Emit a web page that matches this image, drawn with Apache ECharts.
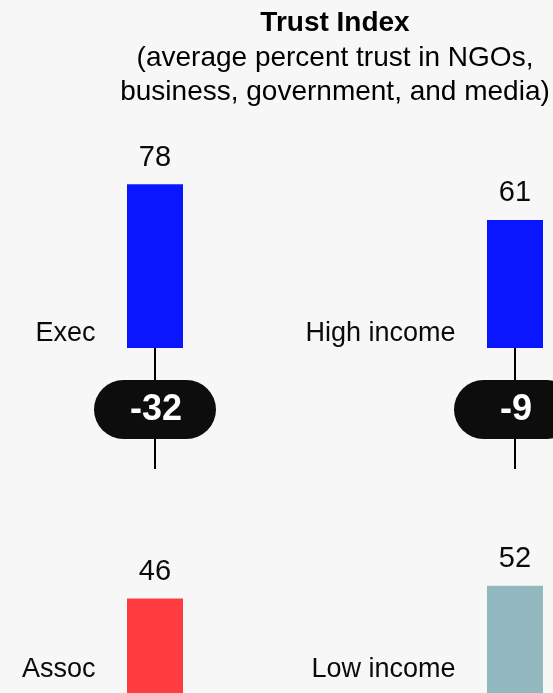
<!DOCTYPE html>
<html>
<head>
<meta charset="utf-8">
<script src="https://cdn.jsdelivr.net/npm/echarts@6/dist/echarts.min.js"></script>
<style>
  html, body { margin: 0; padding: 0; background: #f7f7f7; }
  #chart { width: 553px; height: 693px; }
</style>
</head>
<body>
<div id="chart"></div>
<script>
// top row: executives vs high income, bottom row: associates vs low income
const topNames = ['Exec', 'High income']
const topValues = [78, 61]
const bottomNames = ['Assoc', 'Low income']
const bottomValues = [46, 52]
const gaps = [-32, -9]

const topColors = ['#0a16ff', '#0a16ff']
const bottomColors = ['#ff3d41', '#92b9bf']
const font = '"Liberation Sans", Arial, sans-serif'

const myChart = echarts.init(document.getElementById('chart'))

function barSeries (idx, values, colors) {
  return {
    type: 'bar',
    xAxisIndex: idx,
    yAxisIndex: idx,
    barWidth: 56,
    data: values.map((v, i) => ({ value: v, itemStyle: { color: colors[i] } })),
    label: {
      show: true,
      position: 'top',
      distance: 12,
      fontFamily: font,
      fontSize: 29,
      color: '#0a0a0a'
    }
  }
}

function nameSeries (idx, names, dy) {
  return {
    type: 'scatter',
    xAxisIndex: idx,
    yAxisIndex: idx,
    symbolSize: 1,
    itemStyle: { color: 'rgba(0,0,0,0)', opacity: 1 },
    silent: true,
    data: names.map((n, i) => [i, 0]),
    label: {
      show: true,
      position: 'left',
      distance: 59,
      offset: [0, dy],
      formatter: p => names[p.dataIndex],
      fontFamily: font,
      fontSize: 27,
      color: '#0a0a0a'
    }
  }
}

const option = {
  backgroundColor: '#f7f7f7',
  animation: false,
  title: {
    text: 'Trust Index',
    subtext: '(average percent trust in NGOs,\nbusiness, government, and media)',
    left: 335,
    top: 6,
    padding: 0,
    textAlign: 'center',
    itemGap: 1,
    textStyle: { fontFamily: font, fontSize: 28, fontWeight: 'bold', color: '#000', lineHeight: 34 },
    subtextStyle: { fontFamily: font, fontSize: 28, color: '#000', lineHeight: 34 }
  },
  grid: [
    { left: -25, width: 720, top: 138, height: 210, outerBoundsMode: 'none', containLabel: false },
    { left: -25, width: 720, top: 485, height: 210, outerBoundsMode: 'none', containLabel: false }
  ],
  xAxis: [
    { type: 'category', gridIndex: 0, data: topNames, show: false },
    { type: 'category', gridIndex: 1, data: bottomNames, show: false }
  ],
  yAxis: [
    { type: 'value', gridIndex: 0, min: 0, max: 100, show: false },
    { type: 'value', gridIndex: 1, min: 0, max: 100, show: false }
  ],
  series: [
    barSeries(0, topValues, topColors),
    barSeries(1, bottomValues, bottomColors),
    nameSeries(0, topNames, -14),
    nameSeries(1, bottomNames, -25),
    {
      // gap pill hanging under each top bar
      type: 'custom',
      xAxisIndex: 0,
      yAxisIndex: 0,
      data: gaps.map((g, i) => [i, 0, g]),
      encode: { x: 0, y: 1 },
      renderItem: function (params, api) {
        const base = api.coord([api.value(0), 0])
        const x = base[0]
        const y = base[1]
        return {
          type: 'group',
          children: [
            { type: 'line', shape: { x1: x, y1: y, x2: x, y2: y + 121 }, style: { stroke: '#000', lineWidth: 2 } },
            { type: 'rect', shape: { x: x - 61, y: y + 32, width: 122, height: 59, r: 29.5 }, style: { fill: '#0d0d0d' } },
            {
              type: 'text',
              style: {
                text: String(api.value(2)),
                x: x + 1,
                y: y + 62,
                align: 'center',
                verticalAlign: 'middle',
                fill: '#fff',
                font: 'bold 36px ' + font
              }
            }
          ]
        }
      }
    }
  ]
}
myChart.setOption(option)
</script>
</body>
</html>
